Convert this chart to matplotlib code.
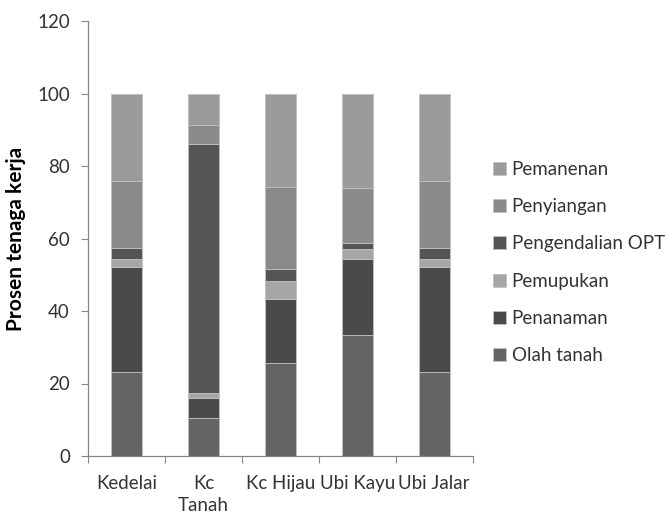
import matplotlib
matplotlib.use("Agg")
import matplotlib.pyplot as plt
import numpy as np

categories = ["Kedelai", "Kc\nTanah", "Kc Hijau", "Ubi Kayu", "Ubi Jalar"]
series_names = ["Olah tanah", "Penanaman", "Pemupukan", "Pengendalian OPT", "Penyiangan", "Pemanenan"]

olah_tanah = [23.2, 10.4, 25.7, 33.4, 23.2]
penanaman = [28.9, 5.7, 17.6, 20.9, 28.9]
pemupukan = [2.2, 1.2, 5.0, 2.9, 2.2]
pengendalian_opt = [3.0, 68.8, 3.2, 1.5, 3.0]
penyiangan = [18.7, 5.3, 22.6, 15.1, 18.7]
pemanenan = [24.0, 8.6, 25.9, 26.2, 24.0]

series_values = [olah_tanah, penanaman, pemupukan, pengendalian_opt, penyiangan, pemanenan]
colors = ["#646464", "#4a4a4a", "#a6a6a6", "#555555", "#8a8a8a", "#9b9b9b"]

plt.rcParams["font.family"] = ["Lato", "DejaVu Sans"]

fig = plt.figure(figsize=(6.66, 5.15), dpi=100)
ax = fig.add_axes([88 / 666, 1 - 456 / 515, (472.7 - 88) / 666, (456 - 21) / 515])

x = np.arange(len(categories))
bottom = np.zeros(len(categories))
handles = []
for name, vals, c in zip(series_names, series_values, colors):
    h = ax.bar(x, vals, width=0.4, bottom=bottom, color=c, edgecolor="#c0c0c0",
               linewidth=0.6, label=name)
    handles.append(h)
    bottom += np.array(vals)

ax.set_xlim(-0.5, len(categories) - 0.5)
ax.set_ylim(0, 120)
ax.set_yticks(range(0, 121, 20))
ax.set_xticks(np.arange(-0.5, len(categories), 1.0), minor=False)
ax.set_xticklabels([])
ax.set_xticks(x, minor=True)
ax.set_xticklabels(categories, minor=True, fontsize=13.5, color="#333333", linespacing=1.3)
ax.tick_params(axis="x", which="minor", length=0, pad=14)
ax.tick_params(axis="x", which="major", length=5, color="#868686", direction="out")
ax.tick_params(axis="y", length=5, color="#868686", direction="out", labelsize=13.5,
               labelcolor="#333333", pad=8)

for s in ["top", "right"]:
    ax.spines[s].set_visible(False)
for s in ["left", "bottom"]:
    ax.spines[s].set_color("#868686")
    ax.spines[s].set_linewidth(0.9)

ax.set_ylabel("Prosen tenaga kerja", fontsize=15, fontweight="bold", color="#000000", labelpad=8)

fig.legend(handles[::-1], series_names[::-1], loc="upper left",
           bbox_to_anchor=(476 / 666, 1 - 144 / 515), frameon=False,
           fontsize=13.5, handlelength=0.7, handleheight=0.7, handletextpad=0.3,
           labelspacing=1.08, labelcolor="#333333")

fig.savefig("out.png", dpi=100)
